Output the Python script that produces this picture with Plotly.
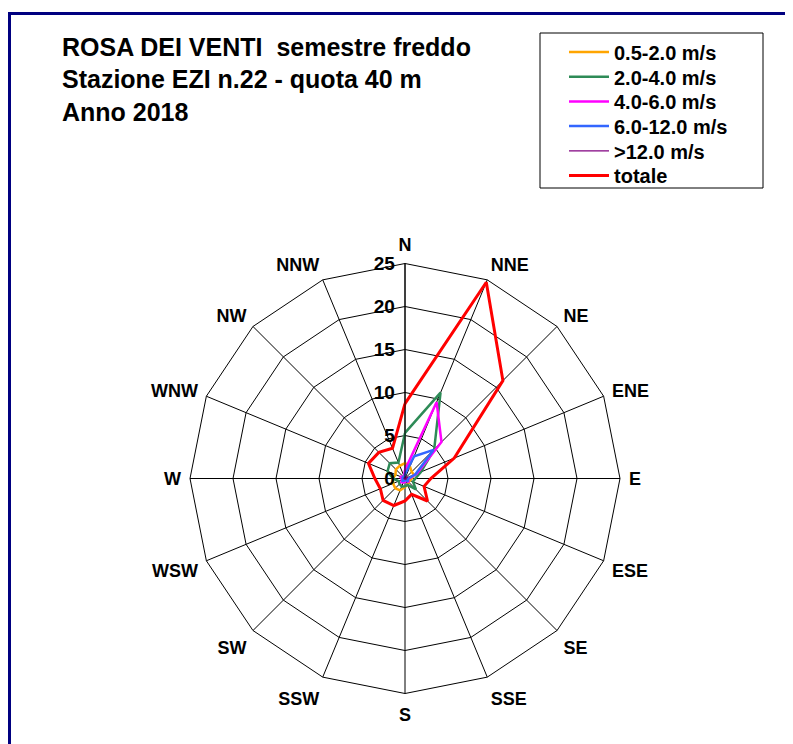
import plotly.graph_objects as go

directions = ["N", "NNE", "NE", "ENE", "E", "ESE", "SE", "SSE",
              "S", "SSW", "SW", "WSW", "W", "WNW", "NW", "NNW"]

v_05_2 = [1.8, 1.5, 1.1, 1.1, 0.8, 0.6, 0.6, 0.8, 1.0, 1.5, 1.6, 1.5, 1.4, 1.2, 1.5, 1.6]
v_2_4 = [5.3, 10.8, 4.8, 2.0, 1.2, 1.0, 1.8, 0.8, 0.9, 1.0, 0.9, 0.8, 1.4, 2.2, 2.5, 2.0]
v_4_6 = [1.0, 9.6, 6.0, 1.5, 0.5, 0.4, 0.6, 0.2, 0.4, 0.5, 0.6, 0.4, 0.4, 0.6, 0.2, 0.3]
v_6_12 = [0.5, 2.8, 4.7, 1.3, 0.4, 0.3, 0.5, 0.1, 0.2, 0.3, 0.4, 0.3, 0.2, 0.4, 0.1, 0.2]
v_12 = [0.1, 0.2, 0.3, 0.3, 0.1, 0.1, 0.2, 0.1, 0.1, 0.1, 0.1, 0.1, 0.1, 0.2, 0.0, 0.0]
v_tot = [8.7, 24.7, 16.1, 6.2, 3.0, 2.4, 3.7, 2.0, 2.6, 3.4, 3.6, 3.1, 3.5, 4.6, 4.3, 3.8]

series = [
    ("0.5-2.0 m/s", v_05_2, "#FFA500", 2.5),
    ("2.0-4.0 m/s", v_2_4, "#2E8B57", 2.5),
    ("4.0-6.0 m/s", v_4_6, "#FF00FF", 2.5),
    ("6.0-12.0 m/s", v_6_12, "#3366FF", 2.5),
    (">12.0 m/s", v_12, "#800080", 1.2),
    ("totale", v_tot, "#FF0000", 3),
]

radial_ticks = [0, 5, 10, 15, 20, 25]
title_lines = ["ROSA DEI VENTI  semestre freddo",
               "Stazione EZI n.22 - quota 40 m",
               "Anno 2018"]

FONT = "Liberation Sans, Arial, sans-serif"

W, H = 793, 744
OFF = 8  # page body margin


def fx(X):
    return (X - OFF) / W


def fy(Y):
    return 1 - (Y - OFF) / H


fig = go.Figure()
legend_layouts = {}
for i, (name, vals, color, w) in enumerate(series):
    key = "legend" if i == 0 else f"legend{i + 1}"
    fig.add_trace(go.Scatterpolar(
        r=vals + vals[:1], theta=directions + directions[:1],
        mode="lines", name=name, legend=key,
        line=dict(color=color, width=w),
    ))
    legend_layouts[key] = dict(
        x=fx(564), y=fy(52 + 24.7 * i), xanchor="left", yanchor="middle",
        borderwidth=0, bgcolor="rgba(0,0,0,0)",
        font=dict(size=20, family=FONT, weight="bold", color="black"),
        itemwidth=40,
    )

cx, cy, R = 405, 478.5, 215
fig.update_layout(
    width=W, height=H,
    margin=dict(l=0, r=0, t=0, b=0),
    paper_bgcolor="white",
    font=dict(family=FONT, color="black"),
    polar=dict(
        domain=dict(x=[fx(cx - R), fx(cx + R)],
                    y=[fy(cy + R), fy(cy - R)]),
        bgcolor="white",
        gridshape="linear",
        angularaxis=dict(
            type="category", categoryarray=directions,
            direction="clockwise", rotation=90,
            showline=True, linecolor="black", linewidth=1,
            gridcolor="black", gridwidth=1,
            ticks="outside", ticklen=5, tickcolor="rgba(0,0,0,0)",
            tickfont=dict(size=18, family=FONT, weight="bold", color="black"),
        ),
        radialaxis=dict(
            range=[0, 25], tickvals=radial_ticks,
            angle=90, tickangle=90, side="counterclockwise",
            showline=True, linecolor="black", linewidth=1,
            gridcolor="black", gridwidth=1,
            ticks="outside", ticklen=3, tickcolor="rgba(0,0,0,0)",
            tickfont=dict(size=19, family=FONT, weight="bold", color="black"),
        ),
    ),
    showlegend=True,
    **legend_layouts,
)

for i, t in enumerate(title_lines):
    fig.add_annotation(
        text=t, xref="paper", yref="paper",
        x=fx(60), y=fy(47 + 32.5 * i),
        xanchor="left", yanchor="middle", showarrow=False,
        font=dict(size=25, family=FONT, weight="bold", color="black"),
    )

# legend frame
fig.add_shape(type="rect", xref="paper", yref="paper",
              x0=fx(540), x1=fx(763), y0=fy(188), y1=fy(33),
              line=dict(color="black", width=1), layer="below")

# outer chart frame
fig.add_shape(type="rect", xref="paper", yref="paper",
              x0=fx(9.5), x1=1.05, y0=-0.05, y1=fy(13.5),
              line=dict(color="#000080", width=3))

fig.write_html("out.html")
